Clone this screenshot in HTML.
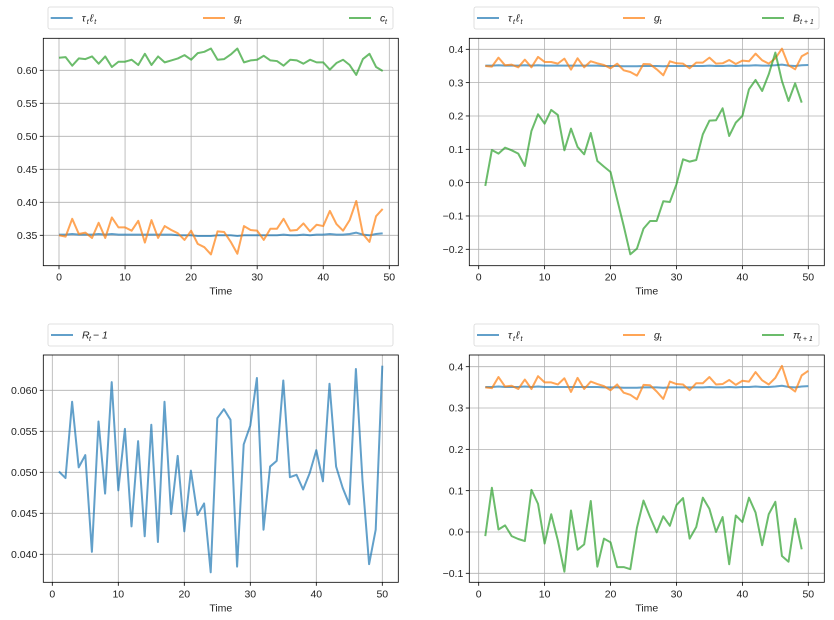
<!DOCTYPE html>
<html><head><meta charset="utf-8"><style>
body{margin:0;background:#fff;}
svg{display:block;font-family:"Liberation Sans",sans-serif;}
</style></head><body>
<svg id="chart" width="834" height="620" viewBox="0 0 834 620"></svg>
<script>
const gSeries=[.350,.348,.375,.352,.354,.346,.369,.346,.377,.362,.362,.357,.372,.339,.373,.346,.364,.358,.353,.343,.357,.337,.332,.321,.356,.355,.340,.322,.364,.358,.357,.343,.360,.360,.375,.357,.358,.368,.356,.366,.364,.387,.367,.357,.373,.402,.352,.340,.379,.390];
const tauSeries=[.351,.351,.352,.351,.351,.351,.352,.351,.352,.351,.351,.351,.351,.351,.351,.351,.351,.351,.350,.350,.350,.349,.349,.349,.350,.350,.350,.349,.350,.350,.350,.350,.350,.350,.351,.350,.350,.351,.350,.351,.351,.352,.351,.351,.352,.354,.351,.350,.352,.353];
const cSeries=[.619,.620,.607,.618,.617,.621,.610,.621,.605,.613,.613,.616,.608,.625,.608,.621,.612,.615,.618,.623,.616,.626,.628,.633,.616,.617,.624,.633,.612,.615,.616,.622,.615,.614,.607,.616,.615,.610,.616,.612,.612,.601,.611,.616,.608,.593,.617,.625,.605,.599];
const bSeries=[-.01,.098,.087,.105,.097,.087,.05,.155,.205,.177,.218,.203,.097,.162,.107,.085,.149,.065,.048,.032,-.05,-.13,-.215,-.198,-.138,-.115,-.115,-.056,-.058,-.005,.07,.063,.068,.145,.186,.187,.223,.14,.18,.2,.28,.308,.275,.325,.39,.305,.245,.298,.24];
const rSeries=[.0501,.0493,.0586,.0506,.0521,.0403,.0562,.0474,.0610,.0478,.0553,.0434,.0538,.0422,.0558,.0415,.0586,.0449,.0520,.0428,.0502,.0448,.0462,.0378,.0566,.0577,.0564,.0385,.0534,.0557,.0615,.0430,.0507,.0514,.0612,.0494,.0497,.0479,.0499,.0527,.0489,.0608,.0507,.0481,.0461,.0626,.0490,.0388,.0430,.0630];
const piSeries=[-.01,.107,.006,.016,-.01,-.017,-.022,.102,.068,-.028,.043,-.02,-.096,.052,-.043,-.03,.075,-.084,-.016,-.025,-.085,-.085,-.09,.01,.076,.036,-.001,.038,.015,.065,.082,-.016,.012,.083,.056,0,.036,-.078,.04,.024,.083,.047,-.032,.043,.073,-.058,-.072,.032,-.042];
const xTicks=[0,10,20,30,40,50];
const yTicks1=[0.35,0.40,0.45,0.50,0.55,0.60];
const yTicks2=[-0.2,-0.1,0.0,0.1,0.2,0.3,0.4];
const yTicks3=[0.040,0.045,0.050,0.055,0.060];
const yTicks4=[-0.1,0.0,0.1,0.2,0.3,0.4];

const NS="http://www.w3.org/2000/svg";
const svg=document.getElementById('chart');
const BLUE='#1f77b4',ORANGE='#ff7f0e',GREEN='#2ca02c';
function el(tag,attrs,parent){const e=document.createElementNS(NS,tag);for(const k in attrs)e.setAttribute(k,attrs[k]);(parent||svg).appendChild(e);return e;}

// label parts: [text, dx, dy, size]
const L_TAU=[['τ',0,0,10.5],['t',5,2.5,7],['ℓ',8,0,10.5],['t',12.5,2.5,7]];
const L_G=[['g',0,0,10.5],['t',5.5,2.5,7]];
const L_C=[['c',0,0,10.5],['t',5,2.5,7]];
const L_B=[['B',0,0,10.5],['t + 1',7,2.5,7]];
const L_R=[['R',0,0,10.5],['t',7,2.5,7],['− 1',11,0,10.5]];
const L_PI=[['π',0,0,10.5],['t + 1',6,2.5,7]];

function panel(cfg){
  const g=el('g',{});
  
  
  const xs=v=>cfg.x0px+(v-0)*(cfg.x50px-cfg.x0px)/50;
  const ys=v=>cfg.ya.px+(v-cfg.ya.v)*(cfg.yb.px-cfg.ya.px)/(cfg.yb.v-cfg.ya.v);
  xTicks.forEach(t=>{
    const l=el('line',{x1:xs(t),x2:xs(t),y1:cfg.top,y2:cfg.bot,stroke:'#b0b0b0','stroke-width':0.8},g);
    
    
    el('line',{x1:xs(t),x2:xs(t),y1:cfg.bot,y2:cfg.bot+3.5,stroke:'#000','stroke-width':0.8},g);
    const tx=el('text',{x:xs(t),y:cfg.bot+15,'font-size':10.5,'text-anchor':'middle',fill:'#222'},g);
    tx.textContent=t;
    
    
  });
  cfg.yTicks.forEach(t=>{
    const l=el('line',{x1:cfg.left,x2:cfg.right,y1:ys(t),y2:ys(t),stroke:'#b0b0b0','stroke-width':0.8},g);
    
    
    el('line',{x1:cfg.left-3.5,x2:cfg.left,y1:ys(t),y2:ys(t),stroke:'#000','stroke-width':0.8},g);
    const tx=el('text',{x:cfg.left-6,y:ys(t)+3.7,'font-size':10.5,'text-anchor':'end',fill:'#222'},g);
    tx.textContent=t.toFixed(cfg.dec).replace('-','\u2212');
    
    
  });
  cfg.series.forEach(s=>{
    const pts=s.data.map((v,i)=>xs(i+s.start).toFixed(2)+','+ys(v).toFixed(2)).join(' ');
    const p=el('polyline',{points:pts,fill:'none',stroke:s.color,'stroke-opacity':0.7,'stroke-width':2,'stroke-linejoin':'round'},g);
    
    
  });
  const fr=el('rect',{x:cfg.left,y:cfg.top,width:cfg.right-cfg.left,height:cfg.bot-cfg.top,fill:'none',stroke:'#000','stroke-width':0.8},g);
  
  
  const xl=el('text',{x:(cfg.left+cfg.right)/2,y:cfg.bot+29,'font-size':10.5,'text-anchor':'middle',fill:'#222'},g);
  xl.textContent='Time';
  
  
  const lg=el('g',{},g);
  
  
  el('rect',{x:cfg.leg.x,y:cfg.leg.y,width:cfg.leg.w,height:22,rx:2,fill:'#fff',stroke:'#d8d8d8','stroke-width':0.8},lg);
  cfg.series.forEach((s,i)=>{
    const ex=cfg.leg.x+cfg.leg.offs[i], cy=cfg.leg.y+11;
    const e=el('g',{},lg);
    
    
    el('line',{x1:ex,x2:ex+22,y1:cy,y2:cy,stroke:s.color,'stroke-opacity':0.7,'stroke-width':2},e);
    s.label.forEach(p=>{
      const t=el('text',{x:ex+31+p[1],y:cy+3.5+p[2],'font-size':p[3],'font-style':'italic',fill:'#222'},e);
      t.textContent=p[0];
    });
  });
}
panel({name:'panel-consumption',left:43.3,right:398.3,top:38.3,bot:265.7,x0px:59,x50px:389.3,
  ya:{v:0.35,px:235.3},yb:{v:0.60,px:70.3},yTicks:yTicks1,dec:2,
  leg:{x:48,y:7,w:345,offs:[2.7,155,301]},
  series:[{name:'tau-l-line',data:tauSeries,start:0,color:BLUE,label:L_TAU},
          {name:'g-line',data:gSeries,start:0,color:ORANGE,label:L_G},
          {name:'c-line',data:cSeries,start:0,color:GREEN,label:L_C}]});
panel({name:'panel-debt',left:469.3,right:824.3,top:38.3,bot:265.7,x0px:478.7,x50px:808.3,
  ya:{v:0.4,px:49.3},yb:{v:-0.2,px:249.3},yTicks:yTicks2,dec:1,
  leg:{x:474,y:7,w:345,offs:[3,149,288]},
  series:[{name:'tau-l-line',data:tauSeries,start:1,color:BLUE,label:L_TAU},
          {name:'g-line',data:gSeries,start:1,color:ORANGE,label:L_G},
          {name:'b-line',data:bSeries,start:1,color:GREEN,label:L_B}]});
panel({name:'panel-interest',left:43.3,right:398.3,top:355,bot:582.3,x0px:52.3,x50px:382.3,
  ya:{v:0.060,px:390.3},yb:{v:0.040,px:554.3},yTicks:yTicks3,dec:3,
  leg:{x:48,y:324,w:345,offs:[3]},
  series:[{name:'r-line',data:rSeries,start:1,color:BLUE,label:L_R}]});
panel({name:'panel-inflation',left:469.3,right:824.3,top:355,bot:582.3,x0px:478.7,x50px:808.3,
  ya:{v:0.4,px:366.7},yb:{v:-0.1,px:573.3},yTicks:yTicks4,dec:1,
  leg:{x:474,y:324,w:345,offs:[3,149,288]},
  series:[{name:'tau-l-line',data:tauSeries,start:1,color:BLUE,label:L_TAU},
          {name:'g-line',data:gSeries,start:1,color:ORANGE,label:L_G},
          {name:'pi-line',data:piSeries,start:1,color:GREEN,label:L_PI}]});
</script>
</body></html>
